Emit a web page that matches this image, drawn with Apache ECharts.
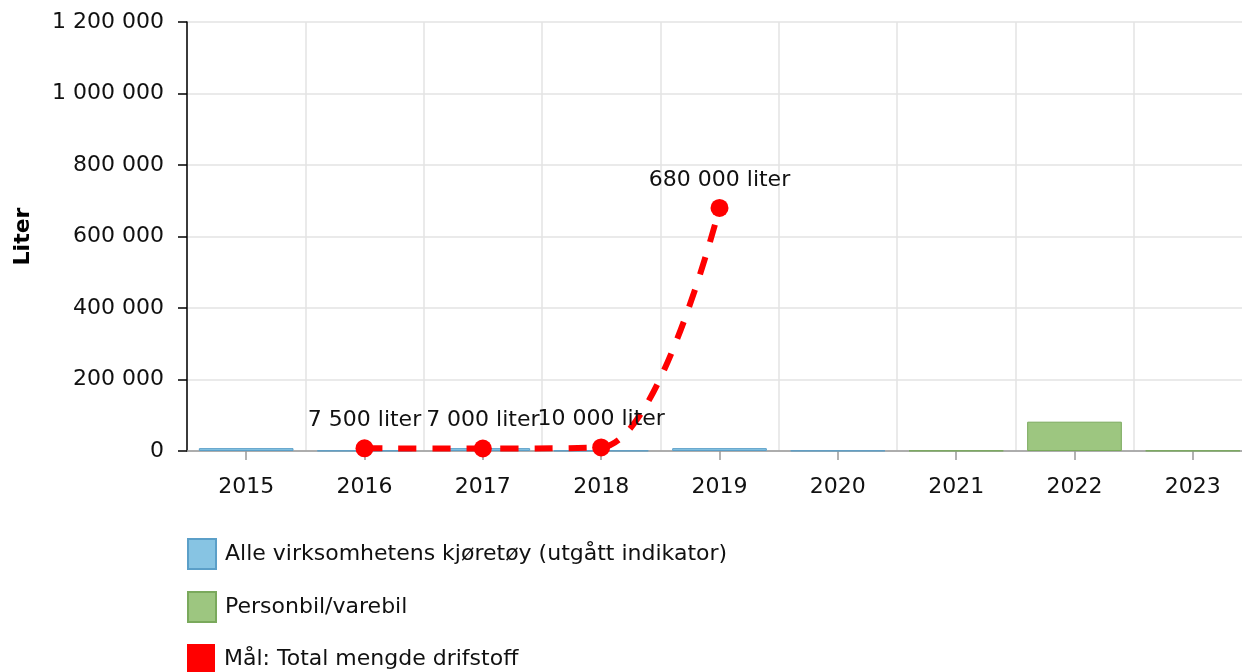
<!DOCTYPE html>
<html>
<head>
<meta charset="utf-8">
<script src="https://cdn.jsdelivr.net/npm/echarts@6/dist/echarts.min.js"></script>
<style>
  html, body { margin: 0; padding: 0; background: #fff; }
  #chart { width: 1242px; height: 672px; }
</style>
</head>
<body>
<div id="chart"></div>
<script>
// data
const years = ['2015', '2016', '2017', '2018', '2019', '2020', '2021', '2022', '2023'];
const alleKjoretoy = [8000, 1000, 8000, 1000, 8000, 1000, null, null, null];
const personbil = [null, null, null, null, null, null, 1000, 82000, 1000];
const maal = [null, 7500, 7000, 10000, 680000, null, null, null, null];
const yTicks = [0, 200000, 400000, 600000, 800000, 1000000, 1200000];
const seriesNames = ['Alle virksomhetens kjøretøy (utgått indikator)', 'Personbil/varebil', 'Mål: Total mengde drifstoff'];

const FONT = 'DejaVu Sans';
const FS = 22;

// tusenskille med mellomrom
function fmt(n) {
    return String(n).replace(/\B(?=(\d{3})+(?!\d))/g, ' ');
}

let myChart = echarts.init(document.getElementById('chart'));

// en legend per rad, så de ikke brytes til to kolonner
let legends = seriesNames.map((name, i) => ({
    orient: 'vertical',
    left: 182,
    top: 533 + i * 53,
    itemWidth: 28,
    itemHeight: 30,
    icon: 'rect',
    textStyle: { fontFamily: FONT, fontSize: FS, color: '#111', padding: [0, 0, 0, 4] },
    data: [name]
}));

let option = {
    animation: false,
    textStyle: { fontFamily: FONT },
    grid: {
        left: 187,
        right: -10,
        top: 22,
        bottom: 221,
        containLabel: false,
        outerBoundsMode: 'none'
    },
    legend: legends,
    xAxis: {
        type: 'category',
        data: years,
        boundaryGap: true,
        axisLine: { lineStyle: { color: '#999', width: 1.5 } },
        axisTick: { show: true, alignWithLabel: true, length: 9, lineStyle: { color: '#999', width: 1.5 } },
        axisLabel: { fontFamily: FONT, fontSize: FS, color: '#111', margin: 25 },
        splitLine: { show: true, lineStyle: { color: '#e3e3e3', width: 1.5 } }
    },
    yAxis: {
        type: 'value',
        min: 0,
        max: yTicks[yTicks.length - 1],
        interval: yTicks[1] - yTicks[0],
        name: 'Liter',
        nameLocation: 'middle',
        nameRotate: 90,
        nameGap: 153,
        nameTextStyle: { fontFamily: FONT, fontSize: FS, fontWeight: 'bold', color: '#000' },
        axisLine: { show: true, lineStyle: { color: '#000', width: 1.5 } },
        axisTick: { show: true, length: 9, lineStyle: { color: '#000', width: 1.5 } },
        axisLabel: {
            fontFamily: FONT, fontSize: FS, color: '#111', margin: 23,
            formatter: (v) => fmt(v)
        },
        splitLine: { show: true, lineStyle: { color: '#e3e3e3', width: 1.5 } }
    },
    series: [
        {
            name: seriesNames[0],
            type: 'bar',
            stack: 'total',
            barCategoryGap: '20%',
            data: alleKjoretoy,
            itemStyle: { color: '#87c4e3', borderColor: '#5b9fc8', borderWidth: 1 }
        },
        {
            name: seriesNames[1],
            type: 'bar',
            stack: 'total',
            barCategoryGap: '20%',
            data: personbil,
            itemStyle: { color: '#9dc680', borderColor: '#7aa95c', borderWidth: 1 }
        },
        {
            name: seriesNames[2],
            type: 'line',
            data: maal,
            smooth: 0.35,
            symbol: 'circle',
            symbolSize: 18,
            z: 5,
            lineStyle: { color: '#ff0000', width: 6, type: [18, 16] },
            itemStyle: { color: '#ff0000' },
            label: {
                show: true,
                position: 'top',
                distance: 8,
                fontFamily: FONT,
                fontSize: FS,
                color: '#111',
                formatter: (p) => fmt(p.value) + ' liter'
            }
        }
    ]
};

myChart.setOption(option);
</script>
</body>
</html>
